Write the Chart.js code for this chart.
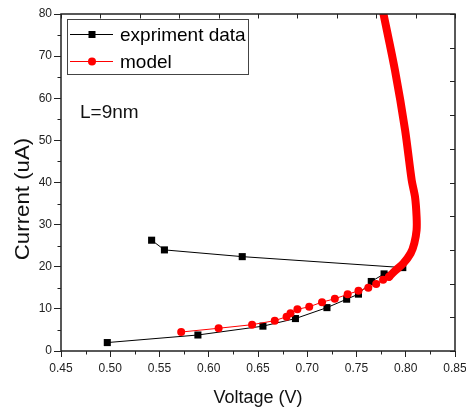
<!DOCTYPE html>
<html>
<head>
<meta charset="utf-8">
<title>I-V curve, L=9nm</title>
<script src="https://cdn.jsdelivr.net/npm/chart.js@4.4.1/dist/chart.umd.min.js"></script>
<style>
  html, body { margin: 0; padding: 0; background: #fff; }
  #wrap { width: 466px; height: 411px; }
</style>
</head>
<body>
<div id="wrap"><canvas id="ivChart" width="466" height="411"></canvas></div>
<script>
const exptVoltage = [0.497, 0.589, 0.655, 0.688, 0.720, 0.740, 0.752, 0.765, 0.778, 0.797, 0.634, 0.555, 0.542];
const exptCurrent = [2.0, 3.8, 5.9, 7.7, 10.3, 12.3, 13.5, 16.5, 18.3, 19.8, 22.4, 24.0, 26.3];

// model points drawn with markers
const modelVoltage = [0.572, 0.610, 0.644, 0.667, 0.679, 0.683, 0.690, 0.702, 0.715, 0.728, 0.741, 0.752, 0.762, 0.770, 0.777, 0.783];
const modelCurrent = [4.5, 5.4, 6.25, 7.2, 8.15, 8.95, 9.9, 10.5, 11.6, 12.4, 13.45, 14.3, 15.0, 15.9, 16.9, 17.6];

// upper part of the model, markers so dense they merge into a band
const bandVoltage = [0.783, 0.788, 0.7975, 0.805, 0.8087, 0.811, 0.811, 0.8094, 0.806, 0.7993, 0.789, 0.7774];
const bandCurrent = [17.6, 18.8, 20.8, 23.2, 25.6, 28.7, 31.9, 36.6, 40.6, 52.5, 66.7, 80];

// axis ticks
const xTicks = [0.45, 0.50, 0.55, 0.60, 0.65, 0.70, 0.75, 0.80, 0.85];
const yTicks = [0, 10, 20, 30, 40, 50, 60, 70, 80];
const topTicks = [0.45, 0.49, 0.53, 0.57, 0.61, 0.65, 0.69, 0.73, 0.77, 0.81, 0.85];
const rightTicks = [0, 8, 16, 24, 32, 40, 48, 56, 64, 72, 80];

const FONT = '"Liberation Sans", Arial, sans-serif';
Chart.defaults.font.family = FONT;
Chart.defaults.color = '#222';

function toPoints(xs, ys) {
    return xs.map(function (x, i) { return { x: x, y: ys[i] }; });
}

// frame, minor ticks, inner ticks on top/right, titles, legend, label
const extras = {
    id: 'extras',
    afterDraw(chart) {
        const ctx = chart.ctx;
        const a = chart.chartArea;
        const xs = chart.scales.x, ys = chart.scales.y;
        ctx.save();

        ctx.strokeStyle = '#222';
        ctx.lineWidth = 1.5;
        ctx.strokeRect(a.left, a.top, a.right - a.left, a.bottom - a.top);

        ctx.lineWidth = 1;
        ctx.beginPath();
        for (let i = 0; i < xTicks.length - 1; i++) {
            const px = Math.round(xs.getPixelForValue((xTicks[i] + xTicks[i + 1]) / 2)) + 0.5;
            ctx.moveTo(px, a.bottom);
            ctx.lineTo(px, a.bottom + 3.5);
        }
        for (let i = 0; i < yTicks.length - 1; i++) {
            const py = Math.round(ys.getPixelForValue((yTicks[i] + yTicks[i + 1]) / 2)) + 0.5;
            ctx.moveTo(a.left, py);
            ctx.lineTo(a.left - 3.5, py);
        }
        topTicks.forEach(function (v) {
            const px = Math.round(xs.getPixelForValue(v)) + 0.5;
            ctx.moveTo(px, a.top);
            ctx.lineTo(px, a.top + 4.5);
        });
        rightTicks.forEach(function (v) {
            const py = Math.round(ys.getPixelForValue(v)) + 0.5;
            ctx.moveTo(a.right, py);
            ctx.lineTo(a.right - 5, py);
        });
        ctx.stroke();

        // axis titles
        ctx.fillStyle = '#111';
        ctx.textAlign = 'center';
        ctx.textBaseline = 'alphabetic';
        ctx.font = '18px ' + FONT;
        ctx.fillText('Voltage (V)', (a.left + a.right) / 2, 403);

        ctx.save();
        ctx.translate(28.5, 199);
        ctx.rotate(-Math.PI / 2);
        ctx.scale(1.06, 1);
        ctx.font = '21px ' + FONT;
        ctx.fillText('Current (uA)', 0, 0);
        ctx.restore();

        // text label
        ctx.textAlign = 'left';
        ctx.font = '19px ' + FONT;
        ctx.fillText('L=9nm', 80, 118);

        // legend box
        ctx.strokeStyle = '#444';
        ctx.lineWidth = 1;
        ctx.strokeRect(67.5, 19.5, 181, 55);

        ctx.strokeStyle = '#000';
        ctx.beginPath();
        ctx.moveTo(70, 34.5);
        ctx.lineTo(113, 34.5);
        ctx.stroke();
        ctx.fillStyle = '#000';
        ctx.fillRect(88.5, 31, 7, 7);

        ctx.strokeStyle = '#ff0000';
        ctx.beginPath();
        ctx.moveTo(70, 61.5);
        ctx.lineTo(113, 61.5);
        ctx.stroke();
        ctx.fillStyle = '#ff0000';
        ctx.beginPath();
        ctx.arc(92, 61.5, 4, 0, Math.PI * 2);
        ctx.fill();

        ctx.fillStyle = '#000';
        ctx.fillText('expriment data', 120, 40.5);
        ctx.fillText('model', 120, 67.5);

        ctx.restore();
    }
};

new Chart(document.getElementById('ivChart'), {
    type: 'scatter',
    data: {
        datasets: [{
            label: 'expriment data',
            data: toPoints(exptVoltage, exptCurrent),
            showLine: true,
            borderColor: '#000',
            borderWidth: 1,
            backgroundColor: '#000',
            pointStyle: 'rect',
            pointRadius: 5,
            pointBorderWidth: 0,
            order: 3
        }, {
            label: 'model',
            data: toPoints(modelVoltage, modelCurrent),
            showLine: true,
            borderColor: '#ff0000',
            borderWidth: 1,
            backgroundColor: '#ff0000',
            pointStyle: 'circle',
            pointRadius: 4,
            pointBorderWidth: 0,
            order: 2
        }, {
            label: 'model band',
            data: toPoints(bandVoltage, bandCurrent),
            showLine: true,
            borderColor: '#ff0000',
            borderWidth: 8,
            borderCapStyle: 'round',
            borderJoinStyle: 'round',
            tension: 0.3,
            pointRadius: 0,
            order: 1
        }]
    },
    options: {
        responsive: false,
        animation: false,
        layout: { padding: { top: 14, right: 11, left: 0, bottom: 0 } },
        plugins: {
            legend: { display: false },
            tooltip: { enabled: false }
        },
        scales: {
            x: {
                type: 'linear',
                min: 0.45,
                max: 0.85,
                afterFit: function (s) {
                    s.height = 60;
                    // let the last label hang over the edge like in the original
                    s.paddingLeft = 0;
                    s.paddingRight = 0;
                },
                afterBuildTicks: function (s) { s.ticks = xTicks.map(function (v) { return { value: v }; }); },
                ticks: {
                    autoSkip: false,
                    maxRotation: 0,
                    padding: 4,
                    font: { size: 12 },
                    callback: function (v) { return Number(v).toFixed(2); }
                },
                grid: { drawOnChartArea: false, drawTicks: true, tickLength: 6, tickColor: '#222', tickWidth: 1 },
                border: { display: false }
            },
            y: {
                type: 'linear',
                min: 0,
                max: 80,
                afterFit: function (s) {
                    s.width = 61;
                    s.paddingTop = 0;
                    s.paddingBottom = 0;
                },
                afterBuildTicks: function (s) { s.ticks = yTicks.map(function (v) { return { value: v }; }); },
                ticks: {
                    autoSkip: false,
                    padding: 2,
                    font: { size: 12 }
                },
                grid: { drawOnChartArea: false, drawTicks: true, tickLength: 7, tickColor: '#222', tickWidth: 1 },
                border: { display: false }
            }
        }
    },
    plugins: [extras]
});
</script>
</body>
</html>
